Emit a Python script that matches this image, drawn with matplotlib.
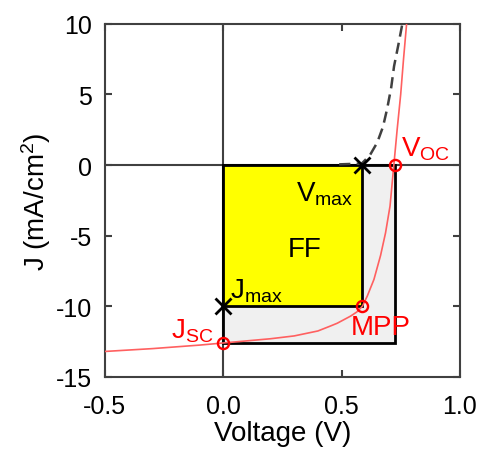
import matplotlib.pyplot as plt
from matplotlib.patches import Rectangle

plt.rcParams['font.family'] = ['Liberation Sans', 'DejaVu Sans']
plt.rcParams['mathtext.fontset'] = 'custom'
plt.rcParams['mathtext.rm'] = 'Liberation Sans'
plt.rcParams['mathtext.it'] = 'Liberation Sans'

# illuminated J-V curve
v_light = [-0.5, -0.3, -0.1, 0.0, 0.1, 0.2, 0.3, 0.4, 0.453, 0.482, 0.538, 0.565,
           0.588, 0.609, 0.637, 0.665, 0.686, 0.705, 0.72, 0.735, 0.75, 0.762, 0.775]
j_light = [-13.2, -13.0, -12.75, -12.6, -12.45, -12.3, -12.1, -11.75, -11.4, -11.2, -10.7, -10.4,
           -10.0, -9.27, -8.1, -6.4, -4.8, -2.9, -0.2, 2.5, 5.0, 7.5, 10.0]

# dashed curve (ideal)
v_dash = [0.49, 0.54, 0.585, 0.62, 0.651, 0.675, 0.693, 0.71, 0.722, 0.74, 0.757]
j_dash = [0.05, 0.08, 0.1, 0.7, 1.6, 2.7, 4.0, 5.5, 7.0, 8.5, 10.0]

v_oc = 0.725
j_sc = -12.6
v_mpp = 0.588
j_mpp = -10.0
v_max = 0.585
j_max = -10.0

fig = plt.figure(figsize=(4.79, 4.52), dpi=100)
ax = fig.add_axes([0.219, 0.164, 0.741, 0.781])

dark = '#404040'
ax.axhline(0, color=dark, lw=1.5, zorder=1)
ax.axvline(0, color=dark, lw=1.5, zorder=1)

ax.add_patch(Rectangle((0, j_sc), v_oc, -j_sc, facecolor='#f0f0f0',
                       edgecolor='black', lw=2, zorder=2))
ax.add_patch(Rectangle((0, j_mpp), v_mpp, -j_mpp, facecolor='#ffff00',
                       edgecolor='black', lw=2, zorder=3))

ax.plot(v_dash, j_dash, color=dark, lw=1.8, ls=(0, (4.5, 2.5)), zorder=4)
ax.plot(v_light, j_light, color='#ff6060', lw=1.2, zorder=5)

ax.plot([0, v_mpp, v_oc], [j_sc, j_mpp, 0], 'o', ms=8, mfc='none',
        mec='red', mew=1.7, zorder=6)
ax.plot([v_max, 0], [0, j_max], 'x', ms=12, mec='black', mew=2, zorder=6)

fs = 20
ax.text(0.75, 1.2, r'$\mathregular{V_{OC}}$', color='red', fontsize=fs, va='center', ha='left')
ax.text(0.55, -2.0, r'$\mathregular{V_{max}}$', color='black', fontsize=fs, va='center', ha='right')
ax.text(0.345, -5.95, 'FF', color='black', fontsize=fs, va='center', ha='center')
ax.text(0.03, -8.9, r'$\mathregular{J_{max}}$', color='black', fontsize=fs, va='center', ha='left')
ax.text(-0.04, -11.7, r'$\mathregular{J_{SC}}$', color='red', fontsize=fs, va='center', ha='right')
ax.text(0.54, -11.5, 'MPP', color='red', fontsize=fs, va='center', ha='left')

ax.set_xlim(-0.5, 1.0)
ax.set_ylim(-15, 10)
ax.set_xticks([-0.5, 0.0, 0.5, 1.0])
ax.set_xticklabels(['-0.5', '0.0', '0.5', '1.0'])
ax.set_yticks([-15, -10, -5, 0, 5, 10])
ax.set_yticklabels(['-15', '-10', '-5', '0', '5', '10'])
ax.tick_params(direction='in', length=5, width=1.5, color=dark, labelsize=18,
               top=True, right=True)
ax.tick_params(axis='x', pad=12)
ax.tick_params(axis='y', pad=9)
for s in ax.spines.values():
    s.set_color(dark)
    s.set_linewidth(1.5)

ax.set_xlabel('Voltage (V)', fontsize=20, labelpad=2)
ax.set_ylabel(r'J (mA/cm$^\mathregular{2}$)', fontsize=20, labelpad=2)

fig.savefig('out.png', dpi=100)
